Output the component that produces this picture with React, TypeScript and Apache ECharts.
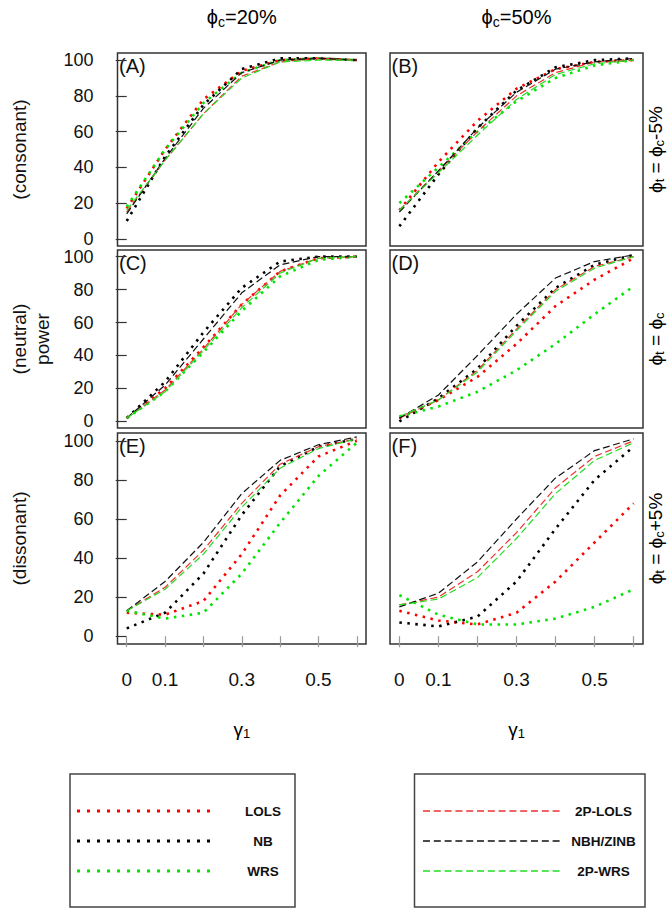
import React, { useEffect, useRef } from 'react';
import * as echarts from 'echarts';

const gamma = [0, 0.1, 0.2, 0.3, 0.4, 0.5, 0.6];
const methodNames = ['LOLS', 'NB', 'WRS', '2P-LOLS', 'NBH/ZINB', '2P-WRS'];
const yTicks = [0, 20, 40, 60, 80, 100];
const xTicks = [0, 0.1, 0.2, 0.3, 0.4, 0.5, 0.6];
const xLabelValues = [0, 0.1, 0.3, 0.5];

// row order in each panel: LOLS, NB, WRS, 2P-LOLS, NBH/ZINB, 2P-WRS
const panelA = [
  [17, 50, 78, 94, 100, 101, 100],
  [10, 46, 75, 95, 101, 101, 100],
  [18, 50, 76, 93, 100, 101, 100],
  [15, 44, 70, 91, 99, 101, 100],
  [14, 45, 73, 93, 100, 101, 100],
  [16, 44, 70, 90, 99, 100, 100],
];
const panelB = [
  [16, 43, 66, 84, 95, 99, 100],
  [7, 36, 62, 83, 96, 100, 101],
  [20, 40, 60, 77, 90, 97, 100],
  [16, 38, 60, 80, 93, 99, 100],
  [15, 38, 62, 82, 95, 99, 101],
  [16, 37, 58, 78, 92, 98, 100],
];
const panelC = [
  [2, 20, 45, 71, 91, 99, 100],
  [2, 24, 54, 81, 97, 100, 100],
  [2, 18, 42, 67, 88, 98, 100],
  [2, 19, 44, 71, 91, 99, 100],
  [2, 22, 50, 78, 95, 100, 100],
  [2, 18, 43, 69, 90, 99, 100],
];
const panelD = [
  [2, 13, 27, 47, 70, 86, 99],
  [0, 14, 32, 58, 81, 95, 101],
  [3, 9, 18, 31, 47, 65, 82],
  [2, 13, 31, 56, 80, 94, 100],
  [2, 16, 40, 65, 87, 97, 101],
  [3, 13, 30, 55, 79, 93, 100],
];
const panelE = [
  [12, 11, 18, 42, 72, 92, 100],
  [4, 12, 32, 62, 87, 97, 101],
  [13, 9, 12, 32, 58, 82, 99],
  [13, 25, 44, 68, 88, 97, 101],
  [13, 28, 48, 73, 90, 98, 102],
  [13, 24, 42, 66, 86, 96, 101],
];
const panelF = [
  [13, 8, 6, 12, 28, 48, 68],
  [7, 5, 10, 28, 55, 80, 97],
  [21, 11, 6, 6, 9, 15, 24],
  [16, 20, 33, 53, 76, 92, 100],
  [15, 22, 38, 60, 81, 95, 101],
  [16, 19, 30, 50, 73, 90, 99],
];

const panelValues = [panelA, panelB, panelC, panelD, panelE, panelF];
const panelLetters = ['(A)', '(B)', '(C)', '(D)', '(E)', '(F)'];
const columnTitles = ['20%', '50%'];
const rowNames = ['(consonant)', '(neutral)', '(dissonant)'];
const rowConditions = ['-5%', '', '+5%'];

const FONT = '"Liberation Sans", Arial, Helvetica, sans-serif';

const methodStyles = [
  { color: '#ff0000', dash: [2.5, 5.5], width: 2.6 },
  { color: '#000000', dash: [2.5, 5.5], width: 2.6 },
  { color: '#00e400', dash: [2.5, 5.5], width: 2.6 },
  { color: '#ee3030', dash: [7, 3.5], width: 1.2 },
  { color: '#111111', dash: [7, 3.5], width: 1.2 },
  { color: '#22dd22', dash: [7, 3.5], width: 1.2 },
];
const legendDash = [
  [3, 7],
  [3, 7],
  [3, 7],
  [7, 3.8],
  [7, 3.8],
  [7, 3.8],
];

const cols = [
  { left: 117.5, width: 248.5 },
  { left: 390, width: 253 },
];
const rows = [
  { top: 53, height: 193 },
  { top: 250, height: 178 },
  { top: 433, height: 211 },
];

function buildOption() {
  const grids: any[] = [];
  const xAxes: any[] = [];
  const yAxes: any[] = [];
  const series: any[] = [];
  const graphics: any[] = [];

  for (let p = 0; p < 6; p++) {
    const r = Math.floor(p / 2);
    const c = p % 2;
    grids.push({
      left: cols[c].left,
      top: rows[r].top,
      width: cols[c].width,
      height: rows[r].height,
      show: true,
      borderColor: '#333',
      borderWidth: 1.5,
      backgroundColor: 'transparent',
      containLabel: false,
    });
    const bottom = r === 2;
    xAxes.push({
      type: 'value',
      gridIndex: p,
      min: -0.024,
      max: 0.624,
      show: bottom,
      splitLine: { show: false },
      axisLine: { show: false },
      axisTick: {
        show: bottom,
        length: 11,
        customValues: xTicks,
        lineStyle: { color: '#9a9a9a', width: 1.2 },
      },
      axisLabel: {
        show: bottom,
        customValues: xLabelValues,
        margin: 26,
        fontSize: 19,
        color: '#111',
        fontFamily: FONT,
        formatter: (v: number) => String(Math.round(v * 10) / 10),
      },
    });
    const left = c === 0;
    yAxes.push({
      type: 'value',
      gridIndex: p,
      min: -4,
      max: 104,
      show: left,
      splitLine: { show: false },
      axisLine: { show: false },
      axisTick: {
        show: left,
        length: 11,
        customValues: yTicks,
        lineStyle: { color: '#333', width: 1.2 },
      },
      axisLabel: {
        show: left,
        customValues: yTicks,
        margin: 24,
        fontSize: 18,
        lineHeight: 15,
        color: '#111',
        fontFamily: FONT,
      },
    });
    const vals = panelValues[p];
    for (let m = 0; m < methodNames.length; m++) {
      const st = methodStyles[m];
      series.push({
        type: 'line',
        name: methodNames[m],
        xAxisIndex: p,
        yAxisIndex: p,
        data: gamma.map((g, i) => [g, vals[m][i]]),
        symbol: 'none',
        clip: false,
        silent: true,
        lineStyle: { color: st.color, width: st.width, type: st.dash, cap: 'butt' },
      });
    }
    graphics.push({
      type: 'text',
      x: cols[c].left + 1.5,
      y: rows[r].top + 3,
      style: {
        text: panelLetters[p],
        fontSize: 20,
        fontFamily: FONT,
        fill: '#111',
        textAlign: 'left',
        textVerticalAlign: 'top',
      },
    });
  }

  const rich = {
    m: { fontSize: 20, fontFamily: FONT, color: '#111' },
    s: { fontSize: 14, fontFamily: FONT, color: '#111', padding: [9, 0, 0, 0] },
  };
  const richSide = {
    m: { fontSize: 19, fontFamily: FONT, color: '#111' },
    s: { fontSize: 13, fontFamily: FONT, color: '#111', padding: [9, 0, 0, 0] },
  };

  // column titles
  for (let c = 0; c < 2; c++) {
    graphics.push({
      type: 'text',
      x: cols[c].left + cols[c].width / 2,
      y: 17,
      style: {
        text: `{m|ϕ}{s|c}{m|=${columnTitles[c]}}`,
        rich,
        textAlign: 'center',
        textVerticalAlign: 'middle',
      },
    });
    // gamma axis title
    graphics.push({
      type: 'text',
      x: cols[c].left + cols[c].width / 2,
      y: 729,
      style: {
        text: '{m|γ}{s|1}',
        rich: richSide,
        textAlign: 'center',
        textVerticalAlign: 'middle',
      },
    });
  }

  // row labels (left) and conditions (right)
  for (let r = 0; r < 3; r++) {
    const cy = rows[r].top + rows[r].height / 2;
    graphics.push({
      type: 'text',
      x: 19,
      y: cy,
      rotation: Math.PI / 2,
      style: {
        text: rowNames[r],
        fontSize: 19,
        fontFamily: FONT,
        fill: '#111',
        textAlign: 'center',
        textVerticalAlign: 'middle',
      },
    });
    const cond = rowConditions[r];
    graphics.push({
      type: 'text',
      x: 655,
      y: cy,
      rotation: Math.PI / 2,
      style: {
        text: `{m|ϕ}{s|t}{m| = ϕ}{s|c}` + (cond ? `{m|${cond}}` : ''),
        rich: richSide,
        textAlign: 'center',
        textVerticalAlign: 'middle',
      },
    });
  }
  graphics.push({
    type: 'text',
    x: 42,
    y: rows[1].top + rows[1].height / 2,
    rotation: Math.PI / 2,
    style: {
      text: 'power',
      fontSize: 19,
      fontFamily: FONT,
      fill: '#111',
      textAlign: 'center',
      textVerticalAlign: 'middle',
    },
  });

  // legends
  const legendBoxes = [
    { x: 70, w: 225, lineX1: 77, lineX2: 216, labelX: 263, items: [0, 1, 2] },
    { x: 414.5, w: 230.5, lineX1: 423, lineX2: 563, labelX: 603.5, items: [3, 4, 5] },
  ];
  const legendRowsY = [811, 841, 871];
  for (const lb of legendBoxes) {
    graphics.push({
      type: 'rect',
      shape: { x: lb.x, y: 774, width: lb.w, height: 133 },
      style: { fill: 'none', stroke: '#444', lineWidth: 1.5 },
    });
    lb.items.forEach((m, i) => {
      const st = methodStyles[m];
      graphics.push({
        type: 'line',
        shape: { x1: lb.lineX1, y1: legendRowsY[i], x2: lb.lineX2, y2: legendRowsY[i] },
        style: {
          stroke: st.color,
          lineWidth: m < 3 ? 3 : 1.3,
          lineDash: legendDash[m],
        },
      });
      graphics.push({
        type: 'text',
        x: lb.labelX,
        y: legendRowsY[i],
        style: {
          text: methodNames[m],
          fontSize: 13.5,
          fontWeight: 'bold',
          fontFamily: FONT,
          fill: '#111',
          textAlign: 'center',
          textVerticalAlign: 'middle',
        },
      });
    });
  }

  return {
    animation: false,
    backgroundColor: '#ffffff',
    grid: grids,
    xAxis: xAxes,
    yAxis: yAxes,
    series,
    graphic: graphics,
  };
}

export default function App() {
  const ref = useRef<HTMLDivElement>(null);
  useEffect(() => {
    if (!ref.current) return;
    const chart = echarts.init(ref.current, undefined, { renderer: 'svg' });
    chart.setOption(buildOption() as any);
    return () => chart.dispose();
  }, []);
  return (
    <div
      ref={ref}
      style={{ position: 'fixed', left: 0, top: 0, width: 668, height: 911, background: '#fff' }}
    />
  );
}
